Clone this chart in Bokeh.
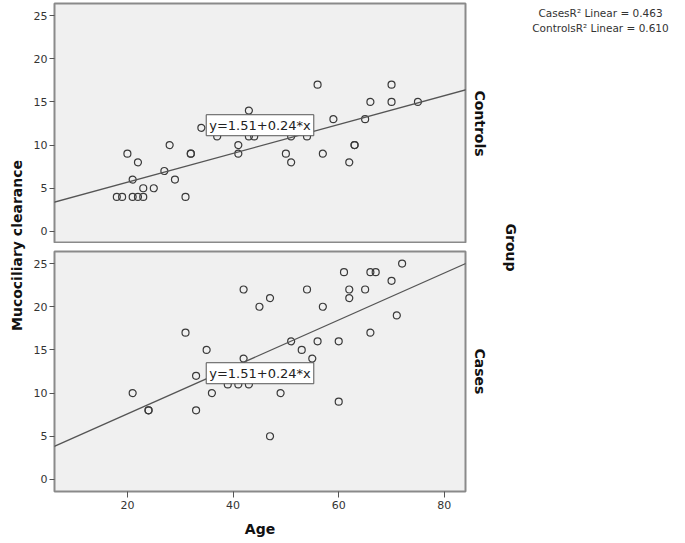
import math
from bokeh.plotting import figure
from bokeh.models import Range1d, Label, Slope, LinearAxis, FixedTicker
from bokeh.layouts import row, column
from bokeh.embed import file_html
from bokeh.resources import INLINE

# ---- data ----
controls_age = [18, 19, 20, 21, 21, 22, 22, 23, 23, 25, 27, 28, 29, 31, 32, 32, 34, 37,
                41, 41, 43, 43, 44, 50, 51, 51, 54, 56, 57, 59, 62, 63, 63, 65, 66, 70, 70, 75]
controls_mcc = [4, 4, 9, 6, 4, 8, 4, 4, 5, 5, 7, 10, 6, 4, 9, 9, 12, 11,
                10, 9, 14, 11, 11, 9, 8, 11, 11, 17, 9, 13, 8, 10, 10, 13, 15, 17, 15, 15]

cases_age = [21, 24, 24, 31, 33, 33, 35, 36, 39, 41, 42, 42, 43, 45, 47, 47, 49, 51,
             53, 54, 55, 56, 57, 60, 60, 61, 62, 62, 65, 66, 67, 66, 70, 71, 72]
cases_mcc = [10, 8, 8, 17, 12, 8, 15, 10, 11, 11, 14, 22, 11, 20, 21, 5, 10, 16,
             15, 22, 14, 16, 20, 16, 9, 24, 22, 21, 22, 24, 24, 17, 23, 19, 25]

groups = ["Controls", "Cases"]
fit_intercept = [2.36, 2.15]
fit_slope = [0.167, 0.272]
equation_text = "y=1.51+0.24*x"
r2_lines = ["CasesR\u00b2 Linear = 0.463", "ControlsR\u00b2 Linear = 0.610"]

x_ticks = [20, 40, 60, 80]
y_ticks = [0, 5, 10, 15, 20, 25]
x_title = "Age"
y_title = "Mucociliary clearance"
group_title = "Group"

FONT = "DejaVu Sans"
PANEL_BG = "#f0f0f0"
BORDER = "#8a8a8a"
INK = "#333333"

x_range = Range1d(6.2, 84)


def panel(height, border_top, border_bottom, with_x_axis, label):
    p = figure(width=460, height=height, x_range=x_range, y_range=Range1d(-1.4, 26.4),
               output_backend="svg", toolbar_location=None,
               x_axis_location="below" if with_x_axis else None,
               min_border_left=23, min_border_right=25,
               min_border_top=border_top, min_border_bottom=border_bottom)
    p.background_fill_color = PANEL_BG
    p.border_fill_color = "white"
    p.outline_line_color = BORDER
    p.outline_line_width = 2
    p.grid.visible = False
    ax = p.yaxis[0]
    ax.ticker = FixedTicker(ticks=y_ticks)
    ax.axis_line_color = None
    ax.major_tick_line_color = "#555555"
    ax.major_tick_out = 5
    ax.major_tick_in = 0
    ax.minor_tick_line_color = None
    ax.major_label_text_font = FONT
    ax.major_label_text_font_size = "11px"
    ax.major_label_text_color = INK
    ax.major_label_standoff = 2
    if with_x_axis:
        xa = p.xaxis[0]
        xa.ticker = FixedTicker(ticks=x_ticks)
        xa.axis_line_color = None
        xa.major_tick_line_color = "#555555"
        xa.major_tick_out = 6
        xa.major_tick_in = 0
        xa.minor_tick_line_color = None
        xa.major_label_text_font = FONT
        xa.major_label_text_font_size = "11px"
        xa.major_label_text_color = INK
        xa.major_label_standoff = 3
        xa.axis_label = x_title
        xa.axis_label_text_font = FONT
        xa.axis_label_text_font_size = "14px"
        xa.axis_label_text_font_style = "bold"
        xa.axis_label_text_color = "#111111"
        xa.axis_label_standoff = 9
    right = LinearAxis(ticker=FixedTicker(ticks=[]), axis_label=label,
                       axis_line_color=None, major_tick_line_color=None,
                       minor_tick_line_color=None)
    right.axis_label_text_font = FONT
    right.axis_label_text_font_size = "14px"
    right.axis_label_text_font_style = "bold"
    right.axis_label_text_color = "#111111"
    right.axis_label_standoff = 6
    p.add_layout(right, "right")
    return p


p_top = panel(243, 3, 0, False, groups[0])
p_bot = panel(300, 8, 52, True, groups[1])

for p, xs, ys, b, m in [(p_top, controls_age, controls_mcc, fit_intercept[0], fit_slope[0]),
                        (p_bot, cases_age, cases_mcc, fit_intercept[1], fit_slope[1])]:
    p.add_layout(Slope(gradient=m, y_intercept=b, line_color="#555555", line_width=1.3))
    p.scatter(xs, ys, marker="circle", size=7, fill_color=None,
              line_color="#3a3a3a", line_width=1.2)
    p.add_layout(Label(x=45.1, y=12.3, text=equation_text, text_align="center",
                       text_baseline="middle", text_font=FONT, text_font_size="13px",
                       text_color="#222222", background_fill_color="white",
                       border_line_color="#555555", border_line_width=1, padding=3))

# left strip: shared y title
p_left = figure(width=30, height=543, x_range=Range1d(0, 30), y_range=Range1d(0, 543),
                output_backend="svg", toolbar_location=None,
                x_axis_location=None, y_axis_location=None, min_border=0)
p_left.outline_line_color = None
p_left.grid.visible = False
p_left.add_layout(Label(x=16, y=298, text=y_title, angle=math.pi / 2,
                        text_align="center", text_baseline="middle",
                        text_font=FONT, text_font_size="14px", text_font_style="bold",
                        text_color="#111111"))

# right strip: group title and R² notes
p_right = figure(width=195, height=543, x_range=Range1d(0, 195), y_range=Range1d(0, 543),
                 output_backend="svg", toolbar_location=None,
                 x_axis_location=None, y_axis_location=None, min_border=0)
p_right.outline_line_color = None
p_right.grid.visible = False
p_right.add_layout(Label(x=20, y=296, text=group_title, angle=-math.pi / 2,
                         text_align="center", text_baseline="middle",
                         text_font=FONT, text_font_size="14px", text_font_style="bold",
                         text_color="#111111"))
for i, t in enumerate(r2_lines):
    p_right.add_layout(Label(x=110, y=531 - 15 * i, text=t, text_align="center",
                             text_baseline="middle", text_font=FONT,
                             text_font_size="10.5px", text_color="#333333"))

layout = row(p_left, column(p_top, p_bot), p_right)

open("out.html", "w").write(file_html(layout, INLINE))
